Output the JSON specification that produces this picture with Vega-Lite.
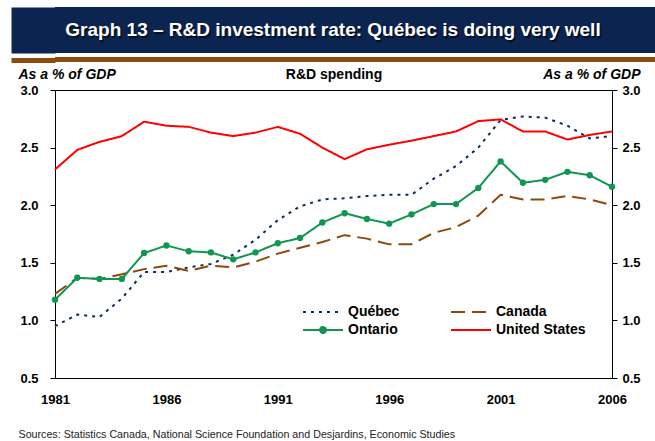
{
  "$schema": "https://vega.github.io/schema/vega-lite/v6.json",
  "padding": {"left": -12, "top": 7, "right": 0, "bottom": 0},
  "background": "#ffffff",
  "config": {"font": "Liberation Sans", "view": {"stroke": null}},
  "columns": 1,
  "spacing": 1,
  "bounds": "full",
  "concat": [
    {
      "columns": 1,
      "spacing": 0,
      "concat": [
        {
          "width": 600,
          "height": 46,
          "view": {"fill": "#0b2550", "stroke": null},
          "data": {"values": [{}]},
          "encoding": {
            "y": {"datum": 0.5, "type": "quantitative", "scale": {"domain": [0, 1]},
              "axis": {"values": [0.5], "tickSize": 44, "tickWidth": 46, "tickColor": "#0b2550", "labels": false, "domain": false, "grid": false, "title": null}}
          },
          "layer": [
            {
              "mark": {"type": "text", "dx": -20.5, "dy": 1.5, "fontSize": 19, "fontWeight": "bold", "color": "#000000", "opacity": 0.6},
              "encoding": {"text": {"value": "Graph 13 – R&D investment rate: Québec is doing very well"}}
            },
            {
              "mark": {"type": "text", "dx": -22, "fontSize": 19, "fontWeight": "bold", "color": "#ffffff"},
              "encoding": {"text": {"value": "Graph 13 – R&D investment rate: Québec is doing very well"}}
            }
          ]
        },
        {
          "width": 600,
          "height": 5,
          "view": {"fill": "#8b4b0e", "stroke": null},
          "data": {"values": [{}]},
          "mark": {"type": "text"},
          "encoding": {
            "text": {"value": ""},
            "y": {"datum": 0.5, "type": "quantitative", "scale": {"domain": [0, 1]},
              "axis": {"values": [0.5], "tickSize": 44, "tickWidth": 5, "tickColor": "#8b4b0e", "labels": false, "domain": false, "grid": false, "title": null}}
          }
        }
      ]
    },
    {
      "width": 557,
      "height": 288,
      "view": {"stroke": "#000000", "strokeWidth": 1},
      "data": {"values": [
        {"year": 1981, "series": "Québec", "value": 0.95},
        {"year": 1982, "series": "Québec", "value": 1.05},
        {"year": 1983, "series": "Québec", "value": 1.03},
        {"year": 1984, "series": "Québec", "value": 1.19},
        {"year": 1985, "series": "Québec", "value": 1.42},
        {"year": 1986, "series": "Québec", "value": 1.42},
        {"year": 1987, "series": "Québec", "value": 1.46},
        {"year": 1988, "series": "Québec", "value": 1.49},
        {"year": 1989, "series": "Québec", "value": 1.57},
        {"year": 1990, "series": "Québec", "value": 1.70},
        {"year": 1991, "series": "Québec", "value": 1.87},
        {"year": 1992, "series": "Québec", "value": 1.99},
        {"year": 1993, "series": "Québec", "value": 2.05},
        {"year": 1994, "series": "Québec", "value": 2.06},
        {"year": 1995, "series": "Québec", "value": 2.08},
        {"year": 1996, "series": "Québec", "value": 2.09},
        {"year": 1997, "series": "Québec", "value": 2.09},
        {"year": 1998, "series": "Québec", "value": 2.23},
        {"year": 1999, "series": "Québec", "value": 2.34},
        {"year": 2000, "series": "Québec", "value": 2.50},
        {"year": 2001, "series": "Québec", "value": 2.74},
        {"year": 2002, "series": "Québec", "value": 2.77},
        {"year": 2003, "series": "Québec", "value": 2.76},
        {"year": 2004, "series": "Québec", "value": 2.69},
        {"year": 2005, "series": "Québec", "value": 2.58},
        {"year": 2006, "series": "Québec", "value": 2.60},
        {"year": 1981, "series": "Canada", "value": 1.23},
        {"year": 1982, "series": "Canada", "value": 1.37},
        {"year": 1983, "series": "Canada", "value": 1.36},
        {"year": 1984, "series": "Canada", "value": 1.40},
        {"year": 1985, "series": "Canada", "value": 1.445},
        {"year": 1986, "series": "Canada", "value": 1.475},
        {"year": 1987, "series": "Canada", "value": 1.43},
        {"year": 1988, "series": "Canada", "value": 1.475},
        {"year": 1989, "series": "Canada", "value": 1.46},
        {"year": 1990, "series": "Canada", "value": 1.51},
        {"year": 1991, "series": "Canada", "value": 1.58},
        {"year": 1992, "series": "Canada", "value": 1.63},
        {"year": 1993, "series": "Canada", "value": 1.68},
        {"year": 1994, "series": "Canada", "value": 1.74},
        {"year": 1995, "series": "Canada", "value": 1.71},
        {"year": 1996, "series": "Canada", "value": 1.66},
        {"year": 1997, "series": "Canada", "value": 1.66},
        {"year": 1998, "series": "Canada", "value": 1.76},
        {"year": 1999, "series": "Canada", "value": 1.81},
        {"year": 2000, "series": "Canada", "value": 1.91},
        {"year": 2001, "series": "Canada", "value": 2.09},
        {"year": 2002, "series": "Canada", "value": 2.05},
        {"year": 2003, "series": "Canada", "value": 2.05},
        {"year": 2004, "series": "Canada", "value": 2.08},
        {"year": 2005, "series": "Canada", "value": 2.05},
        {"year": 2006, "series": "Canada", "value": 2.00},
        {"year": 1981, "series": "Ontario", "value": 1.18},
        {"year": 1982, "series": "Ontario", "value": 1.37},
        {"year": 1983, "series": "Ontario", "value": 1.36},
        {"year": 1984, "series": "Ontario", "value": 1.36},
        {"year": 1985, "series": "Ontario", "value": 1.585},
        {"year": 1986, "series": "Ontario", "value": 1.65},
        {"year": 1987, "series": "Ontario", "value": 1.60},
        {"year": 1988, "series": "Ontario", "value": 1.59},
        {"year": 1989, "series": "Ontario", "value": 1.53},
        {"year": 1990, "series": "Ontario", "value": 1.59},
        {"year": 1991, "series": "Ontario", "value": 1.67},
        {"year": 1992, "series": "Ontario", "value": 1.715},
        {"year": 1993, "series": "Ontario", "value": 1.85},
        {"year": 1994, "series": "Ontario", "value": 1.93},
        {"year": 1995, "series": "Ontario", "value": 1.88},
        {"year": 1996, "series": "Ontario", "value": 1.84},
        {"year": 1997, "series": "Ontario", "value": 1.92},
        {"year": 1998, "series": "Ontario", "value": 2.01},
        {"year": 1999, "series": "Ontario", "value": 2.01},
        {"year": 2000, "series": "Ontario", "value": 2.15},
        {"year": 2001, "series": "Ontario", "value": 2.38},
        {"year": 2002, "series": "Ontario", "value": 2.195},
        {"year": 2003, "series": "Ontario", "value": 2.22},
        {"year": 2004, "series": "Ontario", "value": 2.29},
        {"year": 2005, "series": "Ontario", "value": 2.26},
        {"year": 2006, "series": "Ontario", "value": 2.16},
        {"year": 1981, "series": "United States", "value": 2.31},
        {"year": 1982, "series": "United States", "value": 2.48},
        {"year": 1983, "series": "United States", "value": 2.55},
        {"year": 1984, "series": "United States", "value": 2.60},
        {"year": 1985, "series": "United States", "value": 2.725},
        {"year": 1986, "series": "United States", "value": 2.69},
        {"year": 1987, "series": "United States", "value": 2.68},
        {"year": 1988, "series": "United States", "value": 2.63},
        {"year": 1989, "series": "United States", "value": 2.60},
        {"year": 1990, "series": "United States", "value": 2.63},
        {"year": 1991, "series": "United States", "value": 2.68},
        {"year": 1992, "series": "United States", "value": 2.62},
        {"year": 1993, "series": "United States", "value": 2.50},
        {"year": 1994, "series": "United States", "value": 2.40},
        {"year": 1995, "series": "United States", "value": 2.485},
        {"year": 1996, "series": "United States", "value": 2.525},
        {"year": 1997, "series": "United States", "value": 2.56},
        {"year": 1998, "series": "United States", "value": 2.60},
        {"year": 1999, "series": "United States", "value": 2.64},
        {"year": 2000, "series": "United States", "value": 2.73},
        {"year": 2001, "series": "United States", "value": 2.745},
        {"year": 2002, "series": "United States", "value": 2.64},
        {"year": 2003, "series": "United States", "value": 2.64},
        {"year": 2004, "series": "United States", "value": 2.57},
        {"year": 2005, "series": "United States", "value": 2.61},
        {"year": 2006, "series": "United States", "value": 2.64}
      ]},
      "layer": [
        {
          "mark": {"type": "line", "strokeWidth": 2},
          "encoding": {
            "x": {
              "field": "year", "type": "quantitative",
              "scale": {"domain": [1981, 2006], "nice": false, "zero": false},
              "axis": {
                "values": [1981, 1986, 1991, 1996, 2001, 2006], "format": "d",
                "grid": false, "domain": false, "ticks": false, "tickSize": 0,
                "labelPadding": 15, "labelFontSize": 13, "labelFontWeight": "bold", "labelColor": "#000000",
                "labelFlush": false, "labelOverlap": false,
                "title": "Sources: Statistics Canada, National Science Foundation and Desjardins, Economic Studies",
                "titleAlign": "left", "titleAnchor": "start", "titleX": -37, "titleY": 59, "titleBaseline": "alphabetic",
                "titleFontSize": 10.7, "titleFontWeight": "normal", "titleColor": "#222222"
              }
            },
            "y": {
              "field": "value", "type": "quantitative",
              "scale": {"domain": [0.5, 3], "nice": false, "zero": false},
              "axis": {
                "orient": "left", "values": [0.5, 1, 1.5, 2, 2.5, 3], "format": ".1f",
                "grid": false, "domain": false, "tickSize": 5, "tickColor": "#000000",
                "labelPadding": 12, "labelFontSize": 13, "labelFontWeight": "bold", "labelColor": "#000000", "labelFlush": false,
                "title": "As a % of GDP", "titleAngle": 0, "titleAlign": "left", "titleBaseline": "alphabetic",
                "titleX": -37, "titleY": -12, "titleFontSize": 14, "titleFontStyle": "italic", "titleFontWeight": "bold", "titleColor": "#000000"
              }
            },
            "color": {
              "field": "series", "type": "nominal",
              "scale": {"domain": ["Québec", "Canada", "Ontario", "United States"], "range": ["#0d2a5c", "#8b4a0c", "#0f9650", "#ff0000"]},
              "legend": {
                "orient": "none", "legendX": 246, "legendY": 298, "columns": 2, "direction": "horizontal", "title": null, "padding": 0,
                "symbolType": "M-1,0H7", "symbolSize": 100, "symbolStrokeWidth": 2,
                "labelFontSize": 14, "labelFontWeight": "bold", "labelColor": "#000000", "labelOffset": 33,
                "rowPadding": 4, "columnPadding": 47,
                "encode": {
                  "symbols": {
                    "update": {
                      "shape": [{"test": "datum.value === 'Ontario'", "value": "M-1,0H7M2.4,0A0.6,0.6 0 1,0 3.6,0A0.6,0.6 0 1,0 2.4,0Z"}, {"value": "M-1,0H7"}],
                      "fill": [{"test": "datum.value === 'Ontario'", "value": "#0f9650"}, {"value": "transparent"}]
                    }
                  }
                }
              }
            },
            "strokeDash": {
              "field": "series", "type": "nominal",
              "scale": {"domain": ["Québec", "Canada", "Ontario", "United States"], "range": [[3, 5], [14, 7], [1, 0], [1, 0]]},
              "legend": null
            }
          }
        },
        {
          "transform": [{"filter": "datum.series === 'Ontario'"}],
          "mark": {"type": "point", "filled": true, "size": 40, "color": "#0f9650", "opacity": 1},
          "encoding": {
            "x": {
              "field": "year", "type": "quantitative",
              "axis": {
                "orient": "top", "labels": false, "ticks": false, "domain": false, "grid": false,
                "title": "R&D spending", "titleY": -12, "titleBaseline": "alphabetic",
                "titleFontSize": 14, "titleFontWeight": "bold", "titleColor": "#000000"
              }
            },
            "y": {
              "field": "value", "type": "quantitative",
              "scale": {"domain": [0.5, 3], "nice": false, "zero": false},
              "axis": {
                "orient": "right", "values": [0.5, 1, 1.5, 2, 2.5, 3], "format": ".1f",
                "grid": false, "domain": false, "tickSize": 5, "tickColor": "#000000",
                "labelPadding": 5, "labelFontSize": 13, "labelFontWeight": "bold", "labelColor": "#000000", "labelFlush": false,
                "title": "As a % of GDP", "titleAngle": 0, "titleAlign": "right", "titleBaseline": "alphabetic",
                "titleX": 28, "titleY": -12, "titleFontSize": 14, "titleFontStyle": "italic", "titleFontWeight": "bold", "titleColor": "#000000"
              }
            }
          }
        }
      ],
      "resolve": {"scale": {"y": "independent"}, "axis": {"x": "independent"}}
    }
  ]
}
